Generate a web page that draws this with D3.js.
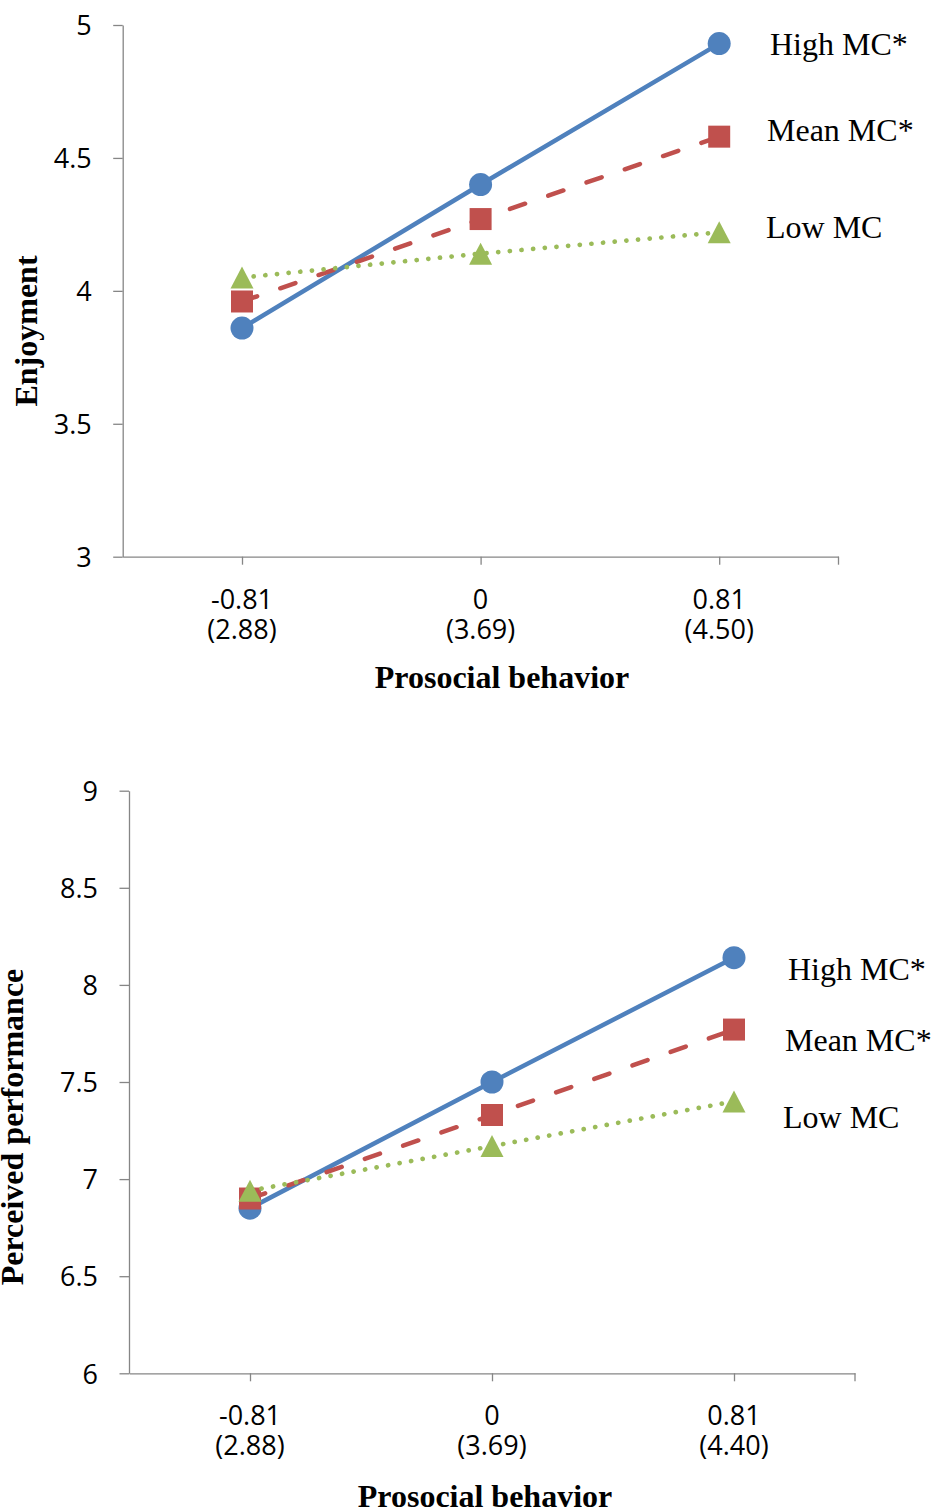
<!DOCTYPE html>
<html>
<head>
<meta charset="utf-8">
<script src="https://cdn.jsdelivr.net/npm/d3@7"></script>
<style>
  body { margin: 0; background: #ffffff; }
</style>
</head>
<body>
<script>
// categories on the x axis (centred prosocial behavior, raw score below)
const categories = ["-0.81", "0", "0.81"];
const enjoymentRaw = ["(2.88)", "(3.69)", "(4.50)"];
const performanceRaw = ["(2.88)", "(3.69)", "(4.40)"];

const seriesNames = ["High MC*", "Mean MC*", "Low MC"];

const enjoymentHigh = [3.86, 4.40, 4.93];
const enjoymentMean = [3.96, 4.27, 4.58];
const enjoymentLow = [4.05, 4.14, 4.22];

const performanceHigh = [6.85, 7.50, 8.14];
const performanceMean = [6.90, 7.33, 7.77];
const performanceLow = [6.94, 7.17, 7.40];

const enjoymentTicks = [3, 3.5, 4, 4.5, 5];
const performanceTicks = [6, 6.5, 7, 7.5, 8, 8.5, 9];

const width = 933;
const height = 1512;

const axisColor = "#868686";
const tickFont = "'Open Sans', sans-serif";
const serifFont = "'Liberation Serif', 'Times New Roman', serif";

const styles = [
  { color: "#4f81bd", dash: null, width: 4.5, marker: "circle" },
  { color: "#c0504d", dash: "16 24.5", width: 4.5, marker: "square" },
  { color: "#9bbb59", dash: "0.1 11.6", width: 4.7, marker: "triangle" },
];

const panels = [
  {
    yTitle: "Enjoyment",
    raw: enjoymentRaw,
    series: [enjoymentHigh, enjoymentMean, enjoymentLow],
    ticks: enjoymentTicks,
    left: 122.7, right: 838.5, top: 25, bottom: 556.7,
    yTitlePos: [37, 331],
    xTitlePos: [502, 688],
    labelPos: [[770, 55], [767, 141], [766, 238]],
  },
  {
    yTitle: "Perceived performance",
    raw: performanceRaw,
    series: [performanceHigh, performanceMean, performanceLow],
    ticks: performanceTicks,
    left: 129, right: 855, top: 790.7, bottom: 1373.3,
    yTitlePos: [23, 1127],
    xTitlePos: [485, 1507],
    labelPos: [[788, 980], [785, 1051], [783, 1128]],
  },
];

const markerPath = (type, cx, cy) => {
  if (type === "square") {
    const h = 11;
    return `M${cx - h},${cy - h}H${cx + h}V${cy + h}H${cx - h}Z`;
  }
  if (type === "triangle") {
    const w = 11.5;
    const h = 11;
    return `M${cx},${cy - h}L${cx + w},${cy + h}L${cx - w},${cy + h}Z`;
  }
  const r = 11.5;
  return `M${cx - r},${cy}a${r},${r} 0 1,0 ${2 * r},0a${r},${r} 0 1,0 ${-2 * r},0Z`;
};

const svg = d3.select("body")
    .append("svg")
    .attr("xmlns", "http://www.w3.org/2000/svg")
    .attr("width", width)
    .attr("height", height)
    .attr("viewBox", [0, 0, width, height].join(" "));

for (const panel of panels) {
  const x = d3.scalePoint()
      .domain(categories)
      .range([panel.left, panel.right])
      .padding(0.5);

  const y = d3.scaleLinear()
      .domain(d3.extent(panel.ticks))
      .range([panel.bottom, panel.top]);

  const g = svg.append("g");

  // y axis
  const yAxis = g.append("g")
      .attr("transform", `translate(${panel.left},0)`)
      .call(d3.axisLeft(y)
          .tickValues(panel.ticks)
          .tickFormat((d) => String(d))
          .tickSize(9.5)
          .tickSizeOuter(0)
          .tickPadding(21.5));

  yAxis.selectAll("path, line")
      .attr("stroke", axisColor)
      .attr("stroke-width", 1.3);

  yAxis.selectAll("text")
      .attr("fill", "#000")
      .attr("dy", "0.36em")
      .style("font-family", tickFont)
      .style("font-size", "27px");

  // x axis
  const xAxis = g.append("g")
      .attr("transform", `translate(0,${panel.bottom})`)
      .call(d3.axisBottom(x)
          .tickSize(8)
          .tickSizeOuter(0)
          .tickFormat(""));

  xAxis.append("line")
      .attr("x1", x.range()[1])
      .attr("x2", x.range()[1])
      .attr("y2", 8);

  xAxis.selectAll("path, line")
      .attr("stroke", axisColor)
      .attr("stroke-width", 1.3);

  const xLabels = g.append("g")
      .selectAll("text")
      .data(categories)
      .enter()
      .append("text")
      .attr("text-anchor", "middle")
      .style("font-family", tickFont)
      .style("font-size", "27px")
      .attr("fill", "#000");

  xLabels.append("tspan")
      .attr("x", (d) => x(d))
      .attr("y", panel.bottom + 52)
      .text((d) => d);

  xLabels.append("tspan")
      .attr("x", (d) => x(d))
      .attr("y", panel.bottom + 82)
      .text((d, i) => panel.raw[i]);

  // axis titles
  g.append("text")
      .attr("transform", `translate(${panel.yTitlePos[0]},${panel.yTitlePos[1]}) rotate(-90)`)
      .attr("text-anchor", "middle")
      .style("font-family", serifFont)
      .style("font-size", "32px")
      .style("font-weight", "bold")
      .text(panel.yTitle);

  g.append("text")
      .attr("x", panel.xTitlePos[0])
      .attr("y", panel.xTitlePos[1])
      .attr("text-anchor", "middle")
      .style("font-family", serifFont)
      .style("font-size", "32px")
      .style("font-weight", "bold")
      .text("Prosocial behavior");

  // series
  const line = d3.line()
      .x((d, i) => x(categories[i]))
      .y((d) => y(d));

  panel.series.forEach((values, s) => {
    const style = styles[s];

    g.append("path")
        .datum(values)
        .attr("d", line)
        .attr("fill", "none")
        .attr("stroke", style.color)
        .attr("stroke-width", style.width)
        .attr("stroke-linecap", style.dash ? "round" : "butt")
        .attr("stroke-dasharray", style.dash);

    g.append("g")
        .selectAll("path")
        .data(values)
        .enter()
        .append("path")
        .attr("d", (d, i) => markerPath(style.marker, x(categories[i]), y(d)))
        .attr("fill", style.color);

    g.append("text")
        .attr("x", panel.labelPos[s][0])
        .attr("y", panel.labelPos[s][1])
        .style("font-family", serifFont)
        .style("font-size", "32px")
        .attr("fill", "#000")
        .text(seriesNames[s]);
  });
}
</script>
</body>
</html>
